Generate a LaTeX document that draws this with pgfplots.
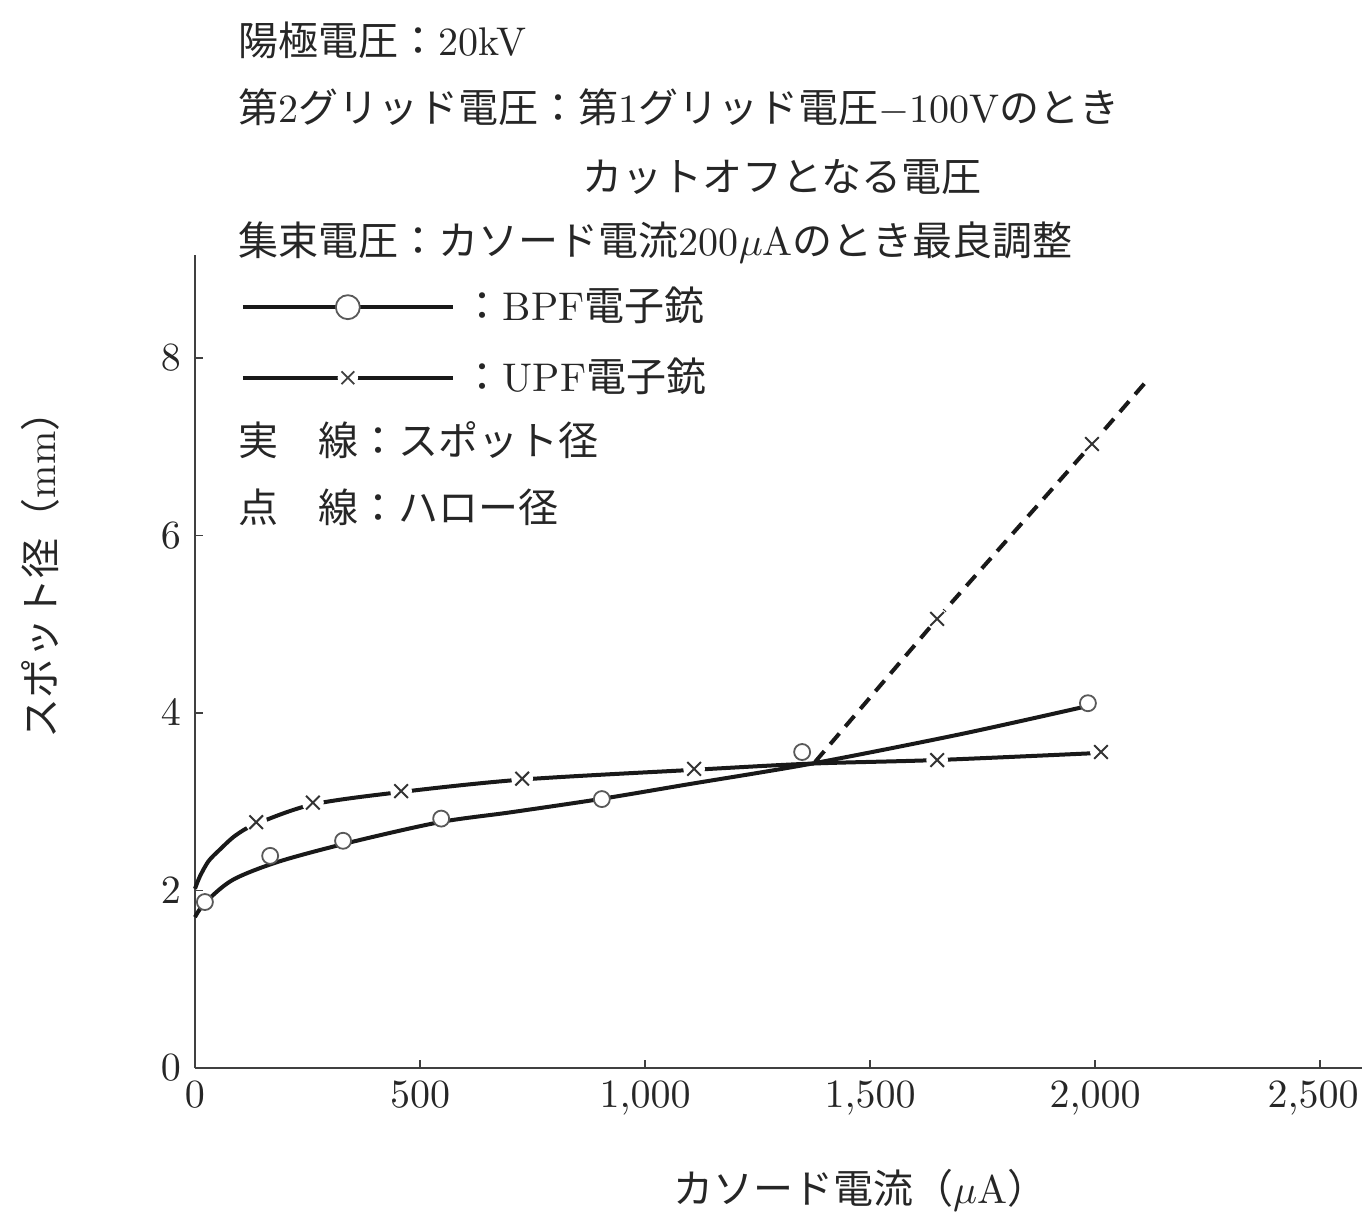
\documentclass[border=0pt]{standalone}
\usepackage{fontspec}
\usepackage{pgfplots}
\pgfplotsset{compat=1.18}
\newfontfamily\jp{Noto Sans CJK JP}
\pgfdeclareplotmark{xg}{%
  \pgfsetfillcolor{white}%
  \pgfpathcircle{\pgfpointorigin}{1.6\pgfplotmarksize}%
  \pgfusepathqfill
  \pgfpathmoveto{\pgfqpoint{-\pgfplotmarksize}{-\pgfplotmarksize}}%
  \pgfpathlineto{\pgfqpoint{\pgfplotmarksize}{\pgfplotmarksize}}%
  \pgfpathmoveto{\pgfqpoint{-\pgfplotmarksize}{\pgfplotmarksize}}%
  \pgfpathlineto{\pgfqpoint{\pgfplotmarksize}{-\pgfplotmarksize}}%
  \pgfusepathqstroke
}
\begin{document}
\begin{tikzpicture}
\useasboundingbox (0,0) rectangle (340.5pt,303.75pt);
\begin{axis}[
  at={(48.75pt,36.75pt)}, anchor=south west,
  width=291.75pt, height=203.25pt, scale only axis,
  xmin=0, xmax=2593, ymin=0, ymax=9.16,
  axis x line=bottom, axis y line=left,
  axis line style={-, line width=0.5pt, black!75},
  tick style={line width=0.4pt, black!75},
  tick align=inside, major tick length=2pt,
  xtick={0,500,1000,1500,2000,2500}, ytick={0,2,4,6,8},
  xticklabels={$0$,$500$,$1{,}000$,$1{,}500$,$2{,}000$,{$2{,}500$\hspace*{3.5pt}}},
  xticklabel style={black!85},
  yticklabel style={black!85},
  clip=false,
  xlabel={{\jp カソード電流（}$\mu$A{\jp ）}},
  ylabel={{\jp スポット径（}mm{\jp ）}},
  xlabel style={at={(axis description cs:0.570,-0.150)}, anchor=center, black!85},
  ylabel style={at={(axis description cs:-0.1328,0.619)}, anchor=center, black!85},
  legend style={at={(axis description cs:0.0386,0.971)}, anchor=north west,
    draw=none, fill=none, inner sep=0pt, row sep=3.75pt, text=black!85},
  legend cell align=left,
  legend image code/.code={\draw[mark repeat=2,mark phase=2,#1] plot coordinates {(0pt,0pt) (26.25pt,0pt) (52.5pt,0pt)};},
]
% BPF curve (spot diameter)
\addplot[forget plot, black!90, line width=1pt, smooth, tension=0.5] coordinates {
  (0,1.70) (22,1.86) (84,2.12) (189,2.33) (351,2.55) (544,2.77) (700,2.88) (900,3.03)
  (1100,3.20) (1371,3.43) (1700,3.76) (1985,4.08)};
% UPF curve (spot diameter)
\addplot[forget plot, black!90, line width=1pt, smooth, tension=0.5] coordinates {
  (0,2.02) (11,2.16) (30,2.33) (55,2.46) (90,2.62) (136,2.75) (262,2.97)
  (458,3.11) (727,3.25) (1109,3.36) (1371,3.43) (1649,3.47) (2010,3.55)};
% UPF halo (dashed)
\addplot[forget plot, black!90, line width=1pt, dash pattern=on 3.5pt off 2.3pt] coordinates {
  (1378,3.45) (1649,5.06) (1993,7.03) (2111,7.72)};
% BPF marks
\addplot[forget plot, only marks, mark=*, mark size=2pt, mark options={fill=white, draw=black!65, line width=0.45pt}] coordinates {
  (22,1.87) (167,2.39) (329,2.56) (547,2.81) (904,3.03) (1349,3.56) (1984,4.11)};
% UPF marks
\addplot[forget plot, only marks, mark=xg, mark size=1.7pt, mark options={draw=black!80, line width=0.5pt}] coordinates {
  (136,2.77) (262,2.99) (458,3.12) (727,3.26) (1109,3.37) (1649,3.47) (2013,3.56)
  (1649,5.06) (1993,7.03)};
\addlegendimage{black!90, line width=1pt, mark=*, mark size=3pt, mark options={fill=white, draw=black!65, line width=0.45pt}}
\addlegendentry{{\jp ：}BPF{\jp 電子銃}}
\addlegendimage{black!90, line width=1pt, mark=xg, mark size=1.6pt, mark options={draw=black!75, line width=0.45pt}}
\addlegendentry{{\jp ：}UPF{\jp 電子銃}}
\end{axis}
\begin{scope}[every node/.style={anchor=west, inner sep=0pt, text=black!85}]
\node at (59.5pt,{303.75pt-40*0.25pt}) {{\jp 陽極電圧：}20kV};
\node at (59.5pt,{303.75pt-107*0.25pt}) {{\jp 第}2{\jp グリッド電圧：第}1{\jp グリッド電圧}$-$100V{\jp のとき}};
\node at (145.5pt,{303.75pt-177*0.25pt}) {\jp カットオフとなる電圧};
\node at (59.5pt,{303.75pt-243*0.25pt}) {{\jp 集束電圧：カソード電流}200$\mu$A{\jp のとき最良調整}};
\node at (59.5pt,{303.75pt-440*0.25pt}) {\jp 実　線：スポット径};
\node at (59.5pt,{303.75pt-507*0.25pt}) {\jp 点　線：ハロー径};
\end{scope}
\end{tikzpicture}
\end{document}
